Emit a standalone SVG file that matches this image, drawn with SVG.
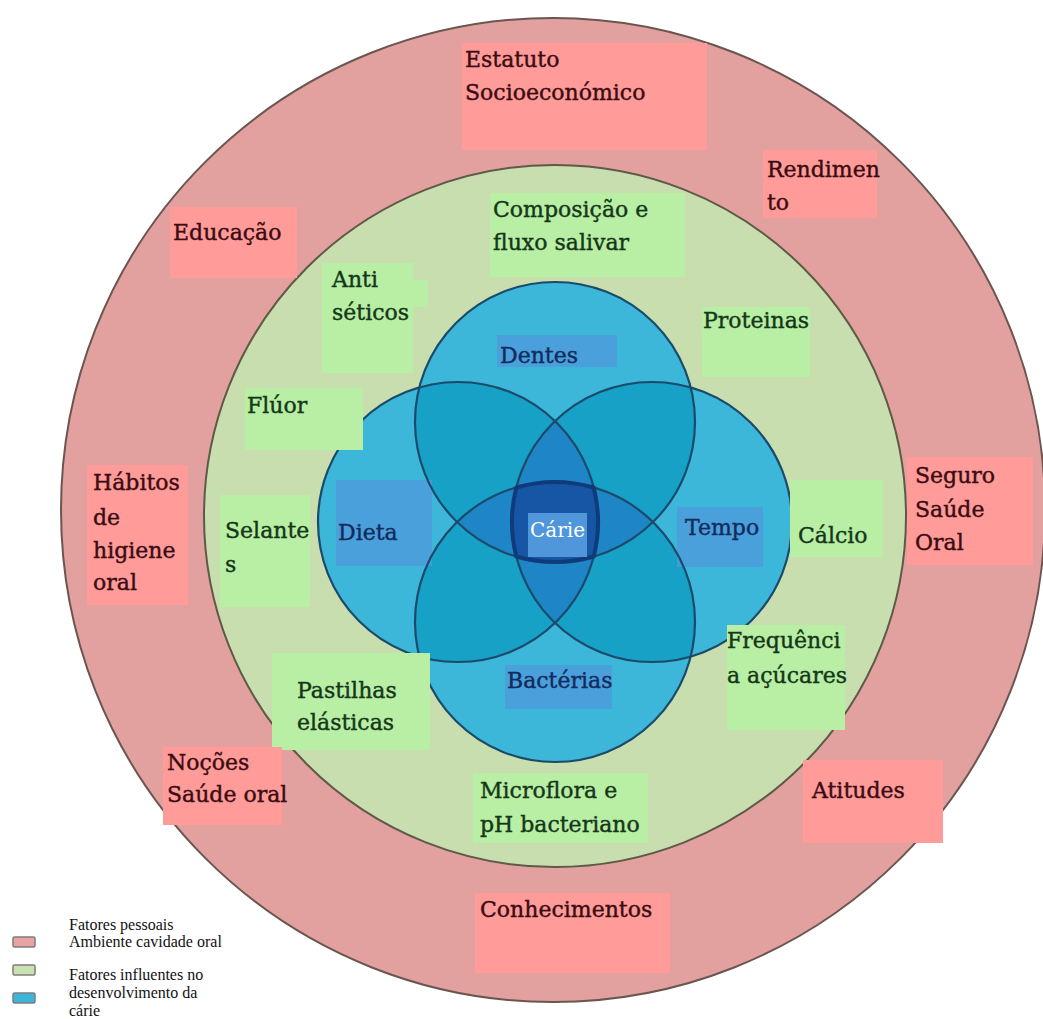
<svg xmlns="http://www.w3.org/2000/svg" width="1043" height="1019" viewBox="0 0 1043 1019">
  <style>
    .ring-outer { fill: #e2a19f; stroke: #6b5550; stroke-width: 2; }
    .ring-inner { fill: #c9deae; stroke: #5d5a48; stroke-width: 2; }
    .c1 { fill: #3cb6d9; }
    .c2 { fill: #17a1c6; }
    .c3 { fill: #1e85c6; }
    .edge { fill: none; stroke: #1c4a6a; stroke-width: 2.2; }
    .core { fill: #1656a5; stroke: #0f3b7a; stroke-width: 4; }
    .box-p { fill: #ff9b98; }
    .box-g { fill: #b8efa4; }
    .box-b { fill: #4d9bdb; opacity: 0.8; }
    .box-c { fill: #5096da; }
    text { font-family: "DejaVu Serif", "Liberation Serif", serif; font-size: 22px; stroke-width: 0.4px; }
    .tp { fill: #3a0c12; stroke: #3a0c12; }
    .tg { fill: #16361a; stroke: #16361a; }
    .tb { fill: #132b5e; stroke: #132b5e; }
    .tw { fill: #ffffff; font-size: 20px; stroke: none; }
    .leg { font-family: "Liberation Serif", serif; font-size: 16px; fill: #111; stroke: none; }
    .sw { stroke: #7d7d7d; stroke-width: 1.5; }
  </style>
  <defs>
    <clipPath id="clipT"><circle cx="555" cy="422" r="140"/></clipPath>
    <clipPath id="clipB"><circle cx="555" cy="622" r="140"/></clipPath>
    <clipPath id="clipL"><circle cx="458" cy="522" r="140"/></clipPath>
    <clipPath id="clipR"><circle cx="652" cy="522" r="140"/></clipPath>
  </defs>

  <rect width="1043" height="1019" fill="#ffffff"/>

  <!-- concentric rings -->
  <g id="ring-personal">
    <circle class="ring-outer" cx="553" cy="510" r="492"/>
  </g>
  <g id="ring-oral">
    <circle class="ring-inner" cx="555" cy="516" r="351"/>
  </g>

  <!-- four overlapping factor circles -->
  <g id="venn">
    <circle class="c1" cx="555" cy="422" r="140"/>
    <circle class="c1" cx="555" cy="622" r="140"/>
    <circle class="c1" cx="458" cy="522" r="140"/>
    <circle class="c1" cx="652" cy="522" r="140"/>
    <!-- pairwise overlaps -->
    <circle class="c2" cx="555" cy="422" r="140" clip-path="url(#clipL)"/>
    <circle class="c2" cx="555" cy="422" r="140" clip-path="url(#clipR)"/>
    <circle class="c2" cx="555" cy="622" r="140" clip-path="url(#clipL)"/>
    <circle class="c2" cx="555" cy="622" r="140" clip-path="url(#clipR)"/>
    <!-- triple overlaps -->
    <g clip-path="url(#clipL)"><circle class="c3" cx="555" cy="422" r="140" clip-path="url(#clipR)"/></g>
    <g clip-path="url(#clipL)"><circle class="c3" cx="555" cy="622" r="140" clip-path="url(#clipR)"/></g>
    <g clip-path="url(#clipT)"><circle class="c3" cx="458" cy="522" r="140" clip-path="url(#clipB)"/></g>
    <g clip-path="url(#clipT)"><circle class="c3" cx="652" cy="522" r="140" clip-path="url(#clipB)"/></g>
    <!-- label panels inside circles -->
    <rect class="box-b" x="497" y="335" width="120" height="32"/>
    <rect class="box-b" x="336" y="480" width="96" height="86"/>
    <rect class="box-b" x="677" y="507" width="86" height="60"/>
    <rect class="box-b" x="505" y="665" width="107" height="44"/>
    <!-- outlines -->
    <circle class="edge" cx="555" cy="422" r="140"/>
    <circle class="edge" cx="555" cy="622" r="140"/>
    <circle class="edge" cx="458" cy="522" r="140"/>
    <circle class="edge" cx="652" cy="522" r="140"/>
  </g>

  <!-- central region where all four circles meet -->
  <g id="carie">
    <path class="core" d="M516.3 487.5 A140 140 0 0 1 593.7 487.5 A140 140 0 0 1 593.7 556.5 A140 140 0 0 1 516.3 556.5 A140 140 0 0 1 516.3 487.5 Z"/>
    <rect class="box-c" x="528" y="513" width="59" height="44"/>
    <text class="tw" x="530" y="537">Cárie</text>
  </g>

  <!-- circle labels -->
  <g id="dentes"><text class="tb" x="500" y="363">Dentes</text></g>
  <g id="dieta"><text class="tb" x="338" y="540">Dieta</text></g>
  <g id="tempo"><text class="tb" x="685" y="535">Tempo</text></g>
  <g id="bacterias"><text class="tb" x="507" y="688">Bactérias</text></g>

  <!-- oral environment factors -->
  <g id="composicao">
    <rect class="box-g" x="490" y="193" width="195" height="84"/>
    <text class="tg" x="493" y="217">Composição e</text>
    <text class="tg" x="493" y="250">fluxo salivar</text>
  </g>
  <g id="antiseticos">
    <rect class="box-g" x="322" y="263" width="91" height="110"/>
    <rect class="box-g" x="400" y="280" width="28" height="27"/>
    <text class="tg" x="332" y="287">Anti</text>
    <text class="tg" x="332" y="320">séticos</text>
  </g>
  <g id="proteinas">
    <rect class="box-g" x="702" y="307" width="108" height="70"/>
    <text class="tg" x="703" y="328">Proteinas</text>
  </g>
  <g id="fluor">
    <rect class="box-g" x="245" y="388" width="118" height="62"/>
    <text class="tg" x="247" y="413">Flúor</text>
  </g>
  <g id="selantes">
    <rect class="box-g" x="220" y="495" width="90" height="112"/>
    <text class="tg" x="225" y="538">Selante</text>
    <text class="tg" x="225" y="572">s</text>
  </g>
  <g id="calcio">
    <rect class="box-g" x="790" y="480" width="93" height="77"/>
    <text class="tg" x="798" y="543">Cálcio</text>
  </g>
  <g id="pastilhas">
    <rect class="box-g" x="272" y="653" width="158" height="97"/>
    <text class="tg" x="297" y="698">Pastilhas</text>
    <text class="tg" x="297" y="730">elásticas</text>
  </g>
  <g id="frequencia">
    <rect class="box-g" x="727" y="625" width="118" height="105"/>
    <text class="tg" x="727" y="648">Frequênci</text>
    <text class="tg" x="727" y="683">a açúcares</text>
  </g>
  <g id="microflora">
    <rect class="box-g" x="473" y="773" width="175" height="70"/>
    <text class="tg" x="480" y="798">Microflora e</text>
    <text class="tg" x="480" y="832">pH bacteriano</text>
  </g>

  <!-- personal factors -->
  <g id="estatuto">
    <rect class="box-p" x="462" y="43" width="245" height="107"/>
    <text class="tp" x="465" y="67">Estatuto</text>
    <text class="tp" x="465" y="100">Socioeconómico</text>
  </g>
  <g id="rendimento">
    <rect class="box-p" x="763" y="150" width="114" height="68"/>
    <text class="tp" x="767" y="177">Rendimen</text>
    <text class="tp" x="767" y="210">to</text>
  </g>
  <g id="educacao">
    <rect class="box-p" x="170" y="207" width="127" height="71"/>
    <text class="tp" x="173" y="240">Educação</text>
  </g>
  <g id="habitos">
    <rect class="box-p" x="87" y="465" width="101" height="140"/>
    <text class="tp" x="93" y="490">Hábitos</text>
    <text class="tp" x="93" y="525">de</text>
    <text class="tp" x="93" y="558">higiene</text>
    <text class="tp" x="93" y="590">oral</text>
  </g>
  <g id="seguro">
    <rect class="box-p" x="907" y="457" width="126" height="108"/>
    <text class="tp" x="915" y="483">Seguro</text>
    <text class="tp" x="915" y="517">Saúde</text>
    <text class="tp" x="915" y="550">Oral</text>
  </g>
  <g id="nocoes">
    <rect class="box-p" x="163" y="747" width="119" height="78"/>
    <text class="tp" x="167" y="770">Noções</text>
    <text class="tp" x="167" y="802">Saúde oral</text>
  </g>
  <g id="atitudes">
    <rect class="box-p" x="803" y="760" width="140" height="83"/>
    <text class="tp" x="812" y="798">Atitudes</text>
  </g>
  <g id="conhecimentos">
    <rect class="box-p" x="475" y="893" width="195" height="80"/>
    <text class="tp" x="480" y="917">Conhecimentos</text>
  </g>

  <!-- legend -->
  <g id="legend">
    <rect class="sw" x="13" y="937" width="22" height="10" rx="1.5" fill="#e8a3a3"/>
    <rect class="sw" x="13" y="965" width="22" height="10" rx="1.5" fill="#c9e2b1"/>
    <rect class="sw" x="13" y="993" width="22" height="10" rx="1.5" fill="#3cb6d9"/>
    <text class="leg" x="69" y="930">Fatores pessoais</text>
    <text class="leg" x="69" y="947">Ambiente cavidade oral</text>
    <text class="leg" x="69" y="980">Fatores influentes no</text>
    <text class="leg" x="69" y="998">desenvolvimento da</text>
    <text class="leg" x="69" y="1016">cárie</text>
  </g>
</svg>
